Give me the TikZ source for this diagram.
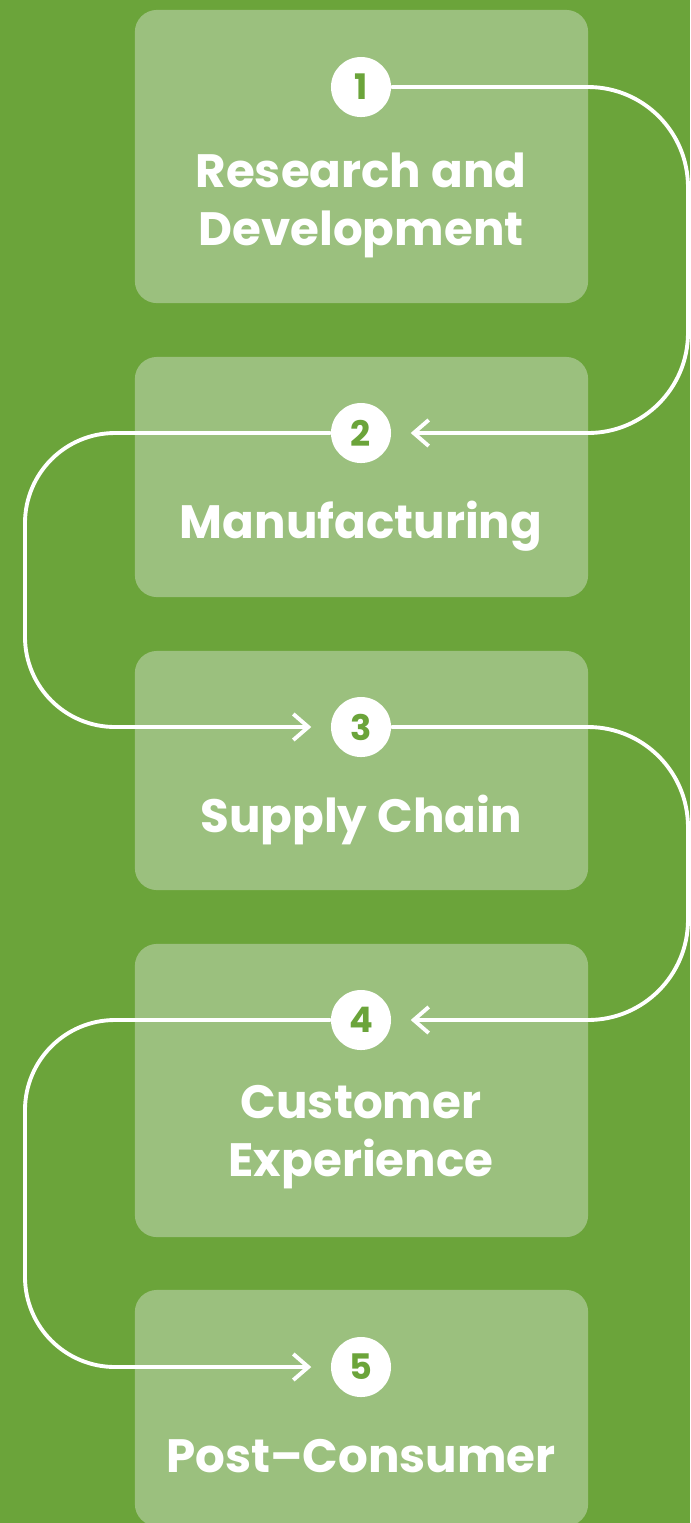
\documentclass[tikz,border=0pt]{standalone}
\usepackage{fontspec}
\setmainfont{Poppins}
\usepackage{tikz}
\usetikzlibrary{arrows.meta}
\definecolor{bggreen}{RGB}{107,164,58}
\definecolor{boxgreen}{RGB}{155,192,126}
\tikzset{
	stage/.style={fill=boxgreen,rounded corners=0.22cm,minimum width=4.53cm,inner sep=0pt},
	badge/.style={circle,fill=white,minimum size=0.6cm,inner sep=0pt,text=bggreen,font=\bfseries\fontsize{10}{12}\selectfont},
	title/.style={text=white,align=center,font=\bfseries\fontsize{13.3}{16.5}\selectfont},
	flow/.style={white,line width=1.1pt,line cap=round,shorten >=0.19cm,-{Straight Barb[length=1.5mm,width=2.6mm]}}
}
\begin{document}
\begin{tikzpicture}[x=0.01cm,y=-0.01cm]
	\fill[bggreen](0,0) rectangle (690,1523);
	\useasboundingbox (0,0) rectangle (690,1523);
	% stages
	\node[stage,minimum height=2.93cm] (box1) at (361.5,156.5) {};
	\node[stage,minimum height=2.40cm] (box2) at (361.5,477) {};
	\node[stage,minimum height=2.39cm] (box3) at (361.5,770.5) {};
	\node[stage,minimum height=2.93cm] (box4) at (361.5,1090.5) {};
	\node[stage,minimum height=2.36cm] (box5) at (361.5,1408) {};
	% numbers
	\node[badge] (c1) at (361,87) {1};
	\node[badge] (c2) at (361,433) {2};
	\node[badge] (c3) at (361,727) {3};
	\node[badge] (c4) at (361,1020) {4};
	\node[badge] (c5) at (361,1367) {5};
	% labels
	\node[title] (t1) at (361,205) {Research and\\Development};
	\node[title,anchor=base] (t2) at (361,538) {Manufacturing};
	\node[title,anchor=base] (t3) at (361,832) {Supply Chain};
	\node[title] (t4) at (361,1137) {Customer\\Experience};
	\node[title,anchor=base] (t5) at (361,1472) {Post–Consumer};
	% connectors
	\draw[flow,rounded corners=1cm] (c1) -- (688,87) -- (688,433) -- (c2);
	\draw[flow,rounded corners=0.9cm] (c2) -- (25,433) -- (25,727) -- (c3);
	\draw[flow,rounded corners=1cm] (c3) -- (688,727) -- (688,1020) -- (c4);
	\draw[flow,rounded corners=0.9cm] (c4) -- (25,1020) -- (25,1367) -- (c5);
\end{tikzpicture}
\end{document}
